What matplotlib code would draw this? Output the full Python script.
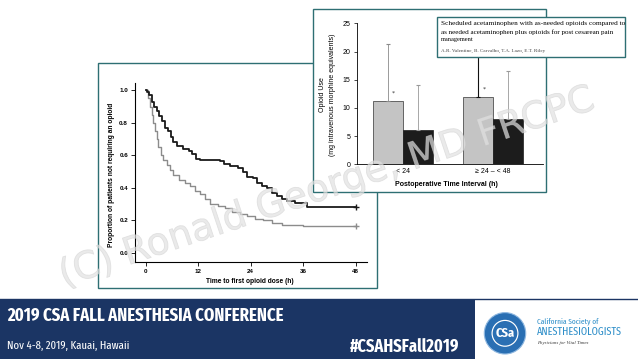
import os
import matplotlib
matplotlib.use("Agg")
import matplotlib.pyplot as plt
from matplotlib.patches import Rectangle, Circle
import matplotlib.patheffects as pe
from matplotlib import font_manager as fm

# ---------------- data ----------------
km_black_t = [0, 0.4, 0.8, 1.4, 1.9, 2.5, 3.0, 3.7, 4.4, 5.2, 5.8, 6.3, 7.2, 8.6, 9.8,
              10.5, 11.5, 12.4, 17.0, 17.8, 19.3, 21.2, 22.3, 23.1, 24.6, 25.4, 26.5,
              27.7, 28.8, 29.9, 31.1, 32.2, 34.1, 36.8, 48]
km_black_s = [1.0, 0.99, 0.97, 0.93, 0.90, 0.87, 0.84, 0.81, 0.77, 0.75, 0.71, 0.68, 0.66,
              0.64, 0.63, 0.61, 0.58, 0.57, 0.565, 0.55, 0.535, 0.52, 0.50, 0.47, 0.46,
              0.43, 0.41, 0.40, 0.37, 0.35, 0.33, 0.32, 0.31, 0.285, 0.285]
km_gray_t = [0, 0.6, 1.0, 1.4, 1.75, 2.1, 2.5, 2.9, 3.4, 4.0, 4.8, 5.6, 6.3, 7.5, 9.0,
             10.1, 11.3, 12.4, 13.6, 14.7, 16.6, 18.1, 19.7, 21.6, 23.1, 25.0, 26.9,
             28.8, 31.1, 36.0, 48]
km_gray_s = [1.0, 0.95, 0.90, 0.85, 0.80, 0.75, 0.70, 0.65, 0.60, 0.57, 0.54, 0.51, 0.48,
             0.45, 0.43, 0.41, 0.38, 0.36, 0.33, 0.30, 0.29, 0.275, 0.255, 0.24, 0.225,
             0.21, 0.20, 0.185, 0.175, 0.165, 0.165]
km_xticks = [0, 12, 24, 36, 48]
km_yticks = [0.0, 0.2, 0.4, 0.6, 0.8, 1.0]

bar_groups = ["< 24", "\u2265 24 \u2013 < 48"]
bar_gray = [11.3, 12.0]
bar_gray_err = [10.1, 8.5]
bar_black = [6.0, 8.1]
bar_black_err = [8.0, 8.5]
bar_yticks = [0, 5, 10, 15, 20, 25]

W, H = 638, 359
fig = plt.figure(figsize=(W / 100, H / 100), dpi=100)
fig.patch.set_facecolor("white")
TEAL = "#2e6f73"
NAVY = "#1b3564"
renderer = fig.canvas.get_renderer()


def _wnum(w):
    if isinstance(w, str):
        return fm.weight_dict.get(w, 400)
    return int(w)


def pick_narrow(bold):
    best, best_score = None, -1e9
    for f in fm.fontManager.ttflist:
        fn = os.path.basename(f.fname).lower().replace("-", "").replace("_", "").replace(" ", "")
        nm = f.name.lower()
        if "italic" in fn or "oblique" in fn or f.style != "normal":
            continue
        if "extracondensed" in fn or "ultracondensed" in fn:
            sc = 4
        elif "semicondensed" in fn:
            sc = 2
        elif "condensed" in fn or "narrow" in fn or "condensed" in nm or "narrow" in nm:
            sc = 3
        elif f.stretch not in ("normal", 500):
            sc = 1
        else:
            continue
        target = 700 if bold else 400
        score = sc * 1000 - abs(_wnum(f.weight) - target)
        if score > best_score:
            best, best_score = f, score
    if best is None:
        return fm.FontProperties(family="DejaVu Sans", weight="bold" if bold else "normal")
    return fm.FontProperties(fname=best.fname)


NB = pick_narrow(True)
NR = pick_narrow(False)


def overlay(z):
    ov = fig.add_axes([0, 0, 1, 1], zorder=z)
    ov.set_xlim(0, W)
    ov.set_ylim(H, 0)
    ov.axis("off")
    return ov


def px_axes(x0, y0, x1, y1, z):
    a = fig.add_axes([x0 / W, 1 - y1 / H, (x1 - x0) / W, (y1 - y0) / H], zorder=z)
    a.patch.set_visible(False)
    return a


def fit(t, target_w):
    bb = t.get_window_extent(renderer=renderer)
    t.set_fontsize(t.get_fontsize() * target_w / bb.width)
    return t


def ntext(ax, x, y, s, fp, size, **kw):
    p = fp.copy()
    p.set_size(size)
    return ax.text(x, y, s, fontproperties=p, **kw)


ARIAL = ["Liberation Sans", "DejaVu Sans"]

# ---------------- background layer ----------------
ov0 = overlay(0)
ov0.add_patch(Rectangle((97.7, 63.3), 377 - 97.7, 288 - 63.3, fc="white", ec=TEAL, lw=1.0))
# banner
ov0.add_patch(Rectangle((0, 299), 475, 60, fc=NAVY, ec="none"))
ov0.plot([0, W], [299, 299], color=NAVY, lw=1.0)
fit(ntext(ov0, 7, 316, "2019 CSA FALL ANESTHESIA CONFERENCE", NB, 16, color="white",
          va="center", ha="left"), 276)
fit(ntext(ov0, 7, 346, "Nov 4-8, 2019, Kauai, Hawaii", NR, 8, color="white",
          va="center", ha="left"), 123)
fit(ntext(ov0, 350, 346.5, "#CSAHSFall2019", NB, 12, color="white",
          va="center", ha="left"), 109)
# logo
cx, cy = 505, 333.3
ov0.add_patch(Circle((cx, cy), 20.7, fc="#2a6fb3", ec="#8fb8e0", lw=0.8))
ov0.add_patch(Circle((cx, cy), 13.5, fc="white", ec="none"))
ov0.add_patch(Circle((cx, cy), 12.3, fc="#2a6fb3", ec="none"))
fit(ntext(ov0, cx, cy + 0.5, "CSa", NB, 10, color="white", ha="center", va="center"), 19)
fit(ntext(ov0, 536.7, 321.7, "California Society of", NR, 6, color="#2f8fc9",
          ha="left", va="center"), 61.6)
fit(ntext(ov0, 536.7, 331.7, "ANESTHESIOLOGISTS", NR, 8, color="#2f8fc9",
          ha="left", va="center"), 85)
fit(ov0.text(537, 342.7, "Physicians for Vital Times", color="#333333",
             family=["Liberation Serif", "DejaVu Serif"], style="italic",
             fontsize=4, ha="left", va="center"), 51)

# ---------------- Kaplan-Meier chart ----------------
ax = px_axes(135, 83, 367, 261.7, 1)
ax.step(km_gray_t, km_gray_s, where="post", color="#8c8c8c", lw=1.0)
ax.step(km_black_t, km_black_s, where="post", color="#1a1a1a", lw=1.3)
ax.plot([km_gray_t[-1]], [km_gray_s[-1]], marker="+", color="#8c8c8c", ms=4, mew=1)
ax.plot([km_black_t[-1]], [km_black_s[-1]], marker="+", color="#1a1a1a", ms=4, mew=1)
ax.set_xlim(-2.446, 50.58)
ax.set_ylim(-0.0535, 1.045)
for s in ["top", "right"]:
    ax.spines[s].set_visible(False)
for s in ["left", "bottom"]:
    ax.spines[s].set_linewidth(0.8)
ax.set_xticks(km_xticks)
ax.set_xticklabels([str(v) for v in km_xticks])
ax.set_yticks(km_yticks)
ax.set_yticklabels([f"{v:.1f}" for v in km_yticks])
ax.tick_params(length=3, width=0.6, labelsize=4.5, pad=2)
for lab in ax.get_xticklabels() + ax.get_yticklabels():
    lab.set_fontweight("bold")
    lab.set_family(ARIAL)
ov_lbl = overlay(1.5)
ov_lbl.text(250, 281.7, "Time to first opioid dose (h)", family=ARIAL, weight="bold",
            fontsize=4.8, ha="center", va="center")
ov_lbl.text(111.7, 175, "Proportion of patients not requiring an opioid", family=ARIAL,
            weight="bold", fontsize=4.8, ha="center", va="center", rotation=90)

# ---------------- bar chart box ----------------
ov1 = overlay(2)
ov1.add_patch(Rectangle((313, 9), 546 - 313, 192 - 9, fc="white", ec=TEAL, lw=1.0))
ov1.text(323, 95, "Opioid Use", family=ARIAL, fontsize=5, rotation=90,
         ha="center", va="center")
ov1.text(333, 95, "(mg intravenous morphine equivalents)", family=ARIAL, fontsize=5,
         rotation=90, ha="center", va="center")
ov1.text(446.7, 185, "Postoperative Time Interval (h)", family=ARIAL, weight="bold",
         fontsize=5, ha="center", va="center")

bx = px_axes(356.7, 23.3, 543, 164.3, 3)
w = 0.331
xs = list(range(len(bar_groups)))
xg = [x - w / 2 for x in xs]
xb = [x + w / 2 for x in xs]
bx.bar(xg, bar_gray, width=w, color="#c4c4c4", edgecolor="#333333", lw=0.5)
bx.bar(xb, bar_black, width=w, color="#1c1c1c", edgecolor="#1c1c1c", lw=0.5)
gray_ecol = ["#8a8a8a", "#111111"]
for i in xs:
    bx.errorbar([xg[i]], [bar_gray[i]], yerr=[[0], [bar_gray_err[i]]], fmt="none",
                ecolor=gray_ecol[i], elinewidth=0.8 if i else 0.6, capsize=1.6, capthick=0.8)
    bx.errorbar([xb[i]], [bar_black[i]], yerr=[[0], [bar_black_err[i]]], fmt="none",
                ecolor="#999999", elinewidth=0.6, capsize=1.6, capthick=0.8)
    bx.text(xg[i] + 0.064, bar_gray[i] + 0.9, "*", fontsize=4.5, ha="center",
            va="bottom", color="#333333")
bx.set_xlim(-0.508, 1.55)
bx.set_ylim(0, 25)
for s in ["top", "right"]:
    bx.spines[s].set_visible(False)
for s in ["left", "bottom"]:
    bx.spines[s].set_linewidth(0.6)
bx.set_yticks(bar_yticks)
bx.set_xticks(xs)
bx.set_xticklabels(bar_groups)
bx.tick_params(axis="y", length=2.5, width=0.5, labelsize=5, pad=2)
bx.tick_params(axis="x", length=0, labelsize=5, pad=2.5)
for lab in bx.get_xticklabels() + bx.get_yticklabels():
    lab.set_family(ARIAL)

# ---------------- annotation + watermark ----------------
ov2 = overlay(4)
ov2.add_patch(Rectangle((437, 16.7), 625 - 437, 57 - 16.7, fc="white", ec=TEAL, lw=1.0))
SERIF = ["Liberation Serif", "DejaVu Serif"]
fit(ov2.text(441, 23.3, "Scheduled acetaminophen with as-needed opioids compared to",
             family=SERIF, fontsize=5, ha="left", va="center"), 184)
fit(ov2.text(441, 32.3, "as needed acetaminophen plus opioids for post cesarean pain",
             family=SERIF, fontsize=5, ha="left", va="center"), 176)
ov2.text(441, 40.0, "management", family=SERIF, fontsize=4.6, ha="left", va="center")
fit(ov2.text(441, 50.5, "A.R. Valentine, B. Carvalho, T.A. Lazo, E.T. Riley",
             family=SERIF, fontsize=3, ha="left", va="center", color="#444444"), 103)

ov2.text(327, 188, "(C) Ronald George, MD FRCPC", family=["DejaVu Sans"],
         fontsize=27, rotation=18.5, rotation_mode="anchor", ha="center", va="center",
         color="#e2e2e2", alpha=0.45,
         path_effects=[pe.withStroke(linewidth=0.6, foreground="#c4c4c4")])

fig.savefig("out.png", dpi=100, facecolor="white")
